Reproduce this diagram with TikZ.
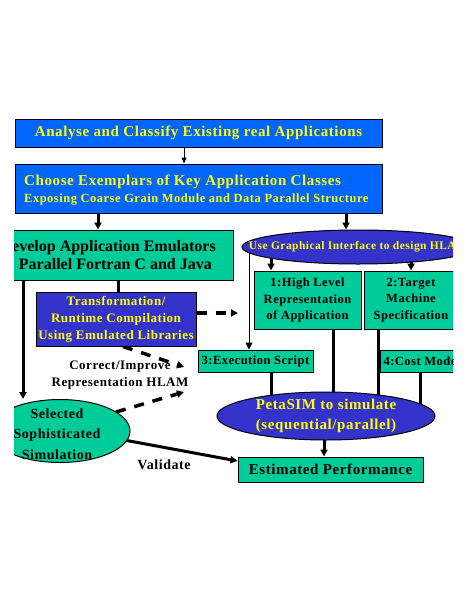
\documentclass[tikz,border=0pt]{standalone}
\usepackage{fontspec}
\setmainfont{Liberation Serif}[LetterSpace=4]
\newfontfamily\plainserif{Liberation Serif}
\usetikzlibrary{arrows.meta,shapes.geometric,backgrounds}
\definecolor{bluebox}{RGB}{0,102,255}
\definecolor{purplebox}{RGB}{51,51,204}
\definecolor{greenbox}{RGB}{0,204,153}
\definecolor{yelltext}{RGB}{255,255,0}
\tikzset{
  bbox/.style={draw=black, line width=1pt, fill=bluebox, text=yelltext, font=\bfseries, inner sep=0pt},
  pbox/.style={draw=black, line width=1pt, fill=purplebox, text=yelltext, font=\bfseries, inner sep=0pt, align=center},
  gbox/.style={draw=black, line width=1pt, fill=greenbox, text=black, font=\bfseries, inner sep=0pt, align=center},
  pell/.style={ellipse, draw=black, line width=1pt, fill=purplebox, text=yelltext, font=\bfseries, inner sep=0pt, align=center},
  gell/.style={ellipse, draw=black, line width=1pt, fill=greenbox, text=black, font=\bfseries, inner sep=0pt, align=center},
  plain/.style={text=black, font=\bfseries, inner sep=0pt, align=center},
  thickc/.style={line width=3pt},
  thinc/.style={line width=1pt},
  tipbig/.style={-{Triangle[length=7pt,width=7pt]}},
  tipsmall/.style={-{Triangle[length=6pt,width=5pt]}},
  dashc/.style={line width=3.5pt, dash pattern=on 10pt off 9pt}
}
\begin{document}
\begin{tikzpicture}[x=1pt,y=-1pt]
\useasboundingbox (0,0) rectangle (468,605);
\begin{scope}
\clip (14,0) rectangle (453,605);
% top boxes
\node[bbox, minimum width=367, minimum height=28, font=\bfseries\fontsize{15}{16}\selectfont] (analyse) at (198.5,133) {Analyse and Classify Existing real Applications};
\node[bbox, minimum width=367, minimum height=49] (choose) at (198.5,188.5) {};
\node[plain, text=yelltext, anchor=base west, font=\bfseries\fontsize{15}{16}\selectfont] (choose1) at (24,185) {Choose Exemplars of Key Application Classes};
\node[plain, text=yelltext, anchor=base west, font=\bfseries\fontsize{12.5}{14}\selectfont] (choose2) at (24,202) {Exposing Coarse Grain Module and Data Parallel Structure};
% emulators box
\node[gbox, minimum width=250, minimum height=50] (emu) at (108,255) {};
\node[plain, anchor=base east, font=\plainserif\bfseries\fontsize{16}{18}\selectfont] (emutxt1) at (216,251) {Develop Application Emulators};
\node[plain, anchor=base east, font=\plainserif\bfseries\fontsize{16}{18}\selectfont] (emutxt2) at (212,269) {Parallel Fortran C and Java};
% transformation
\node[pbox, minimum width=160, minimum height=54, font=\bfseries\fontsize{13}{17}\selectfont] (trans) at (116,319)
  {Transformation/\\Runtime Compilation\\Using Emulated Libraries};
% HLAM ellipse
\node[pell, minimum width=232, minimum height=34, font=\bfseries\fontsize{11.5}{13}\selectfont] (hlam) at (358,247)
  {\makebox[0pt]{Use Graphical Interface to design HLAM}};
% boxes 1 and 2
\node[gbox, minimum width=107, minimum height=58, font=\bfseries\fontsize{12.5}{16.5}\selectfont] (hl) at (307.5,300)
  {1:High Level\\Representation\\of Application};
\node[gbox, minimum width=94, minimum height=58, font=\bfseries\fontsize{12.5}{16.5}\selectfont] (tm) at (411,300)
  {2:Target\\Machine\\Specification};
% exec and cost
\node[gbox, minimum width=115, minimum height=22, font=\bfseries\fontsize{12.5}{15}\selectfont] (exec) at (255.5,361) {3:Execution Script};
\node[gbox, anchor=west, minimum height=22, inner xsep=3pt, font=\bfseries\fontsize{12.5}{15}\selectfont] (cost) at (380,361) {4:Cost Model};
% petasim
\node[pell, minimum width=218, minimum height=48, font=\bfseries\fontsize{15}{20}\selectfont] (peta) at (326,416)
  {PetaSIM to simulate\\(sequential/parallel)};
% estimated performance
\node[gbox, minimum width=185, minimum height=25, font=\bfseries\fontsize{15}{18}\selectfont] (est) at (330.5,469.5) {Estimated Performance};
% selected simulation
\node[gell, minimum width=140, minimum height=63] (sel) at (60,431) {};
\node[plain, font=\bfseries\fontsize{14}{20.5}\selectfont] (seltxt) at (57,434)
  {Selected\\Sophisticated\\Simulation};
% labels
\node[plain, font=\bfseries\fontsize{13}{17}\selectfont] (corr) at (120,375) {Correct/Improve\\Representation HLAM};
\node[plain, font=\bfseries\fontsize{14}{16}\selectfont] (valid) at (164,465) {Validate};
% free ends
\coordinate (dashA) at (238,313);
\coordinate (dashB) at (184,367);
\coordinate (dashC) at (184,392);
% connectors on background
\begin{scope}[on background layer]
\draw[thinc, tipsmall] (analyse.south -| 184,0) -- (choose.north -| 184,0);
\draw[thickc, tipbig] (choose.south -| 98,0) -- (emu.north -| 98,0);
\draw[thickc, tipbig] (choose.south -| 346,0) -- (hlam.north -| 346,0);
\draw[thickc, tipbig] (hlam.center -| 271,0) -- (hl.north -| 271,0);
\draw[thickc, tipbig] (hlam.center -| 411,0) -- (tm.north -| 411,0);
\draw[thinc, tipbig] (hlam.center -| 249,0) -- (exec.north -| 249,0);
\draw[thickc] (emu.south -| 118,0) -- (trans.north -| 118,0);
\draw[thickc, tipbig] (emu.south -| 23,0) -- (sel.north -| 23,0);
\draw[dashc, tipbig] (trans.east |- 0,313) -- (dashA);
\draw[dashc, tipbig] (trans.south -| 123,0) -- (dashB);
\draw[dashc, tipbig] (sel.center -| 116,0) ++(0,-19) -- (dashC);
\draw[thickc, tipbig] (sel.center -| 124,0) ++(0,9) -- (est.west |- 0,461);
\draw[thickc] (hl.south -| 333,0) -- (peta.center -| 333,0);
\draw[thickc] (tm.south -| 378,0) -- (peta.center -| 378,0);
\draw[thickc] (cost.south -| 420,0) -- (peta.center -| 420,0);
\draw[thickc] (exec.south -| 271,0) -- (peta.center -| 271,0);
\draw[thickc, tipbig] (peta.center -| 324,0) -- (est.north -| 324,0);
\end{scope}
\end{scope}
\end{tikzpicture}
\end{document}
